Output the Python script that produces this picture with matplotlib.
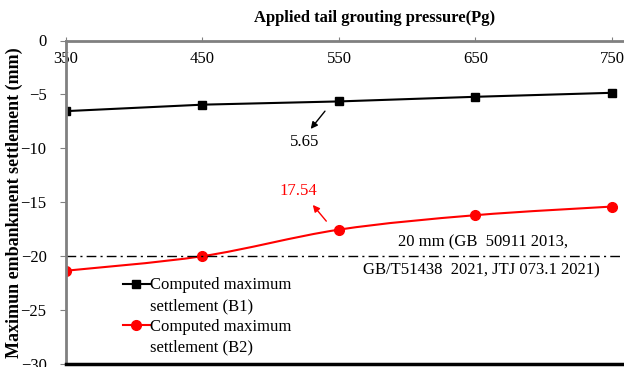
import numpy as np
import matplotlib
matplotlib.use("Agg")
import matplotlib.pyplot as plt
from matplotlib.path import Path
from matplotlib.patches import PathPatch
from matplotlib.lines import Line2D

plt.rcParams['font.family'] = ['Liberation Serif', 'DejaVu Serif']

pressure = [350, 450, 550, 650, 750]
b1 = [-6.55, -5.95, -5.65, -5.22, -4.85]
b2 = [-21.35, -20.0, -17.54, -16.2, -15.4]
limit = -20
labels = ["Computed maximum", "settlement (B1)", "Computed maximum", "settlement (B2)"]


# smooth curve like excel (catmull-rom as bezier)
def smooth_path(x, y):
    pts = np.column_stack([x, y]).astype(float)
    verts = [pts[0]]
    codes = [Path.MOVETO]
    n = len(pts)
    for i in range(n - 1):
        p0 = pts[max(i - 1, 0)]
        p1 = pts[i]
        p2 = pts[i + 1]
        p3 = pts[min(i + 2, n - 1)]
        verts += [p1 + (p2 - p0) / 6, p2 - (p3 - p1) / 6, p2]
        codes += [Path.CURVE4] * 3
    return Path(verts, codes)


fig = plt.figure(figsize=(6.24, 3.67), dpi=100)
ax = fig.add_axes([66 / 624, 1 - 364 / 367, 1 - 66 / 624, (364 - 40.5) / 367])

ax.plot(pressure, b1, color='black', lw=1.5, marker='s', ms=6)
ax.add_patch(PathPatch(smooth_path(pressure, b2), fill=False, edgecolor='red', lw=1.5))
ax.plot(pressure, b2, linestyle='none', color='red', marker='o', ms=7)
ax.axhline(limit, color='black', lw=1, linestyle=(0, (7, 3, 1.5, 3)))

ax.set_xlim(350, 758.8)
ax.set_ylim(-30, 0)
ax.set_xticks(pressure)
ax.set_yticks([0, -5, -10, -15, -20, -25, -30])

ax.xaxis.tick_top()
ax.tick_params(axis='x', direction='out', length=3, color='gray', pad=-22, labelsize=12)
ax.tick_params(axis='y', direction='out', length=4, color='gray', pad=10, labelsize=12)

ax.spines['right'].set_visible(False)
ax.spines['top'].set_color('gray')
ax.spines['top'].set_linewidth(2)
ax.spines['left'].set_color('gray')
ax.spines['left'].set_linewidth(2)
ax.spines['bottom'].set_color('black')
ax.spines['bottom'].set_linewidth(2.5)

fig.text(375 / 624, 1 - 18 / 367, "Applied tail grouting pressure(Pg)", ha='center', va='center',
         fontsize=12, fontweight='bold')
fig.text(14 / 624, 1 - 203 / 367, "Maximun embankment settlement (mm)", ha='center', va='center',
         rotation=90, fontsize=13, fontweight='bold')

ax.annotate("", xy=(528, -8.4), xytext=(541, -6.35), xycoords='data',
            arrowprops=dict(arrowstyle='-|>', color='black', lw=1, mutation_scale=10))
ax.text(525, -9.45, "5.65", ha='center', va='center', fontsize=12)
ax.annotate("", xy=(529.5, -15.05), xytext=(542, -16.95),
            arrowprops=dict(arrowstyle='-|>', color='red', lw=1, mutation_scale=10))
ax.text(520.5, -13.95, "17.54", ha='center', va='center', fontsize=12, color='red')

ax.text(655.5, -18.75, "20 mm (GB  50911 2013,", ha='center', va='center', fontsize=12)
ax.text(654, -21.35, "GB/T51438  2021, JTJ 073.1 2021)", ha='center', va='center', fontsize=12)

blank = Line2D([], [], linestyle='none', marker='none')
handles = [Line2D([], [], color='black', lw=1.5, marker='s', ms=6), blank,
           Line2D([], [], color='red', lw=1.5, marker='o', ms=7), blank]
ax.legend(handles, labels, loc='upper left', bbox_to_anchor=(0.09, 0.288), frameon=False,
          fontsize=12, handlelength=1.6, handletextpad=0.05, labelspacing=0.28,
          borderaxespad=0)

fig.savefig("out.png", dpi=100)
